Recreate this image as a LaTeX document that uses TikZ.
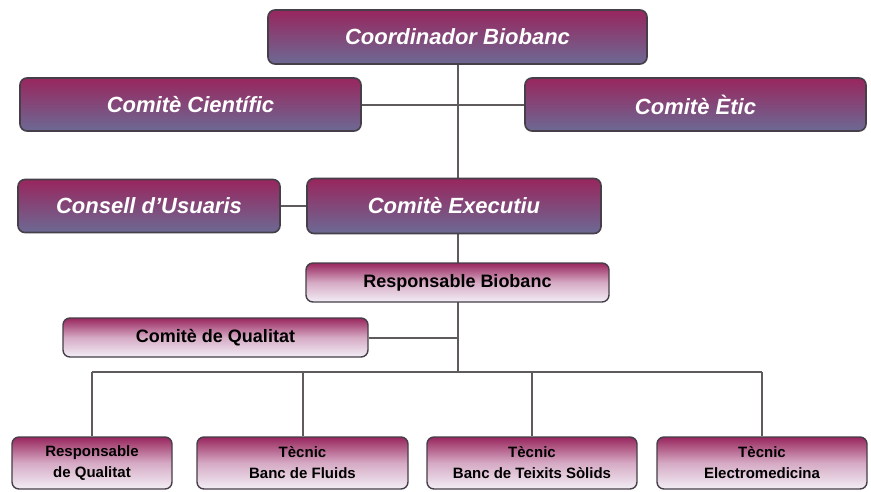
\documentclass[tikz,border=0pt]{standalone}
\usepackage{fontspec}
\setmainfont{Liberation Sans}
\usetikzlibrary{backgrounds}
\definecolor{mag}{RGB}{152,38,94}
\definecolor{slate}{RGB}{108,106,148}
\definecolor{lav}{RGB}{242,238,246}
\definecolor{midpink}{RGB}{214,170,196}
\definecolor{edge}{RGB}{70,62,72}
\definecolor{linec}{RGB}{95,90,92}
\tikzset{
  darkbox/.style={draw=edge, line width=1.6pt, rounded corners=7pt, top color=mag, bottom color=slate,
    text=white, font=\fontsize{22}{24}\selectfont\bfseries\itshape, inner sep=0pt, align=center},
  lightbox/.style={draw=edge, line width=1.4pt, rounded corners=7pt, top color=mag, bottom color=lav, middle color=midpink,
    text=black, font=\fontsize{18}{20}\selectfont\bfseries, inner sep=0pt, align=center},
  botbox/.style={lightbox, font=\fontsize{15}{21}\selectfont\bfseries},
  conn/.style={draw=linec, line width=2pt}
}
\begin{document}
\begin{tikzpicture}[x=1pt,y=-1pt]
\useasboundingbox (0,0) rectangle (871,491);
\node[darkbox, minimum width=379pt, minimum height=54pt] (coord) at (457.5,37) {Coordinador Biobanc};
\node[darkbox, minimum width=341pt, minimum height=53pt] (cient) at (190.5,104.5) {Comitè Científic};
\node[darkbox, minimum width=341pt, minimum height=53pt] (etic) at (695.5,104.5) {Comitè Ètic};
\node[darkbox, minimum width=262pt, minimum height=53pt] (cons) at (149,206) {Consell d’Usuaris};
\node[darkbox, minimum width=294pt, minimum height=55pt] (exec) at (454,206) {Comitè Executiu};
\node[lightbox, minimum width=303pt, minimum height=39pt] (resp) at (457.5,282.5) {Responsable Biobanc};
\node[lightbox, minimum width=305pt, minimum height=39pt] (qual) at (215.5,337.5) {Comitè de Qualitat};
\node[botbox, minimum width=160pt, minimum height=52pt] (rq) at (92,463) {Responsable\\de Qualitat};
\node[botbox, minimum width=211pt, minimum height=52pt] (bf) at (302.5,463) {Tècnic\\Banc de Fluids};
\node[botbox, minimum width=210pt, minimum height=52pt] (ts) at (532,463) {Tècnic\\Banc de Teixits Sòlids};
\node[botbox, minimum width=210pt, minimum height=52pt] (em) at (762,463) {Tècnic\\Electromedicina};
\coordinate (bus) at (458,372);
\coordinate (top) at (458,64);
\begin{pgfonlayer}{background}
\fill[white] (0,0) rectangle (871,491);
\draw[conn] (top) -- (bus);
\draw[conn] (cient.east) -- (etic.west);
\draw[conn] (cons.east) -- (exec.west);
\draw[conn] (qual.east) -- (qual.east -| bus);
\draw[conn] (rq.north |- bus) -- (em.north |- bus);
\draw[conn] (rq.north) -- (rq.north |- bus);
\draw[conn] (bf.north) -- (bf.north |- bus);
\draw[conn] (ts.north) -- (ts.north |- bus);
\draw[conn] (em.north) -- (em.north |- bus);
\end{pgfonlayer}
\end{tikzpicture}
\end{document}
